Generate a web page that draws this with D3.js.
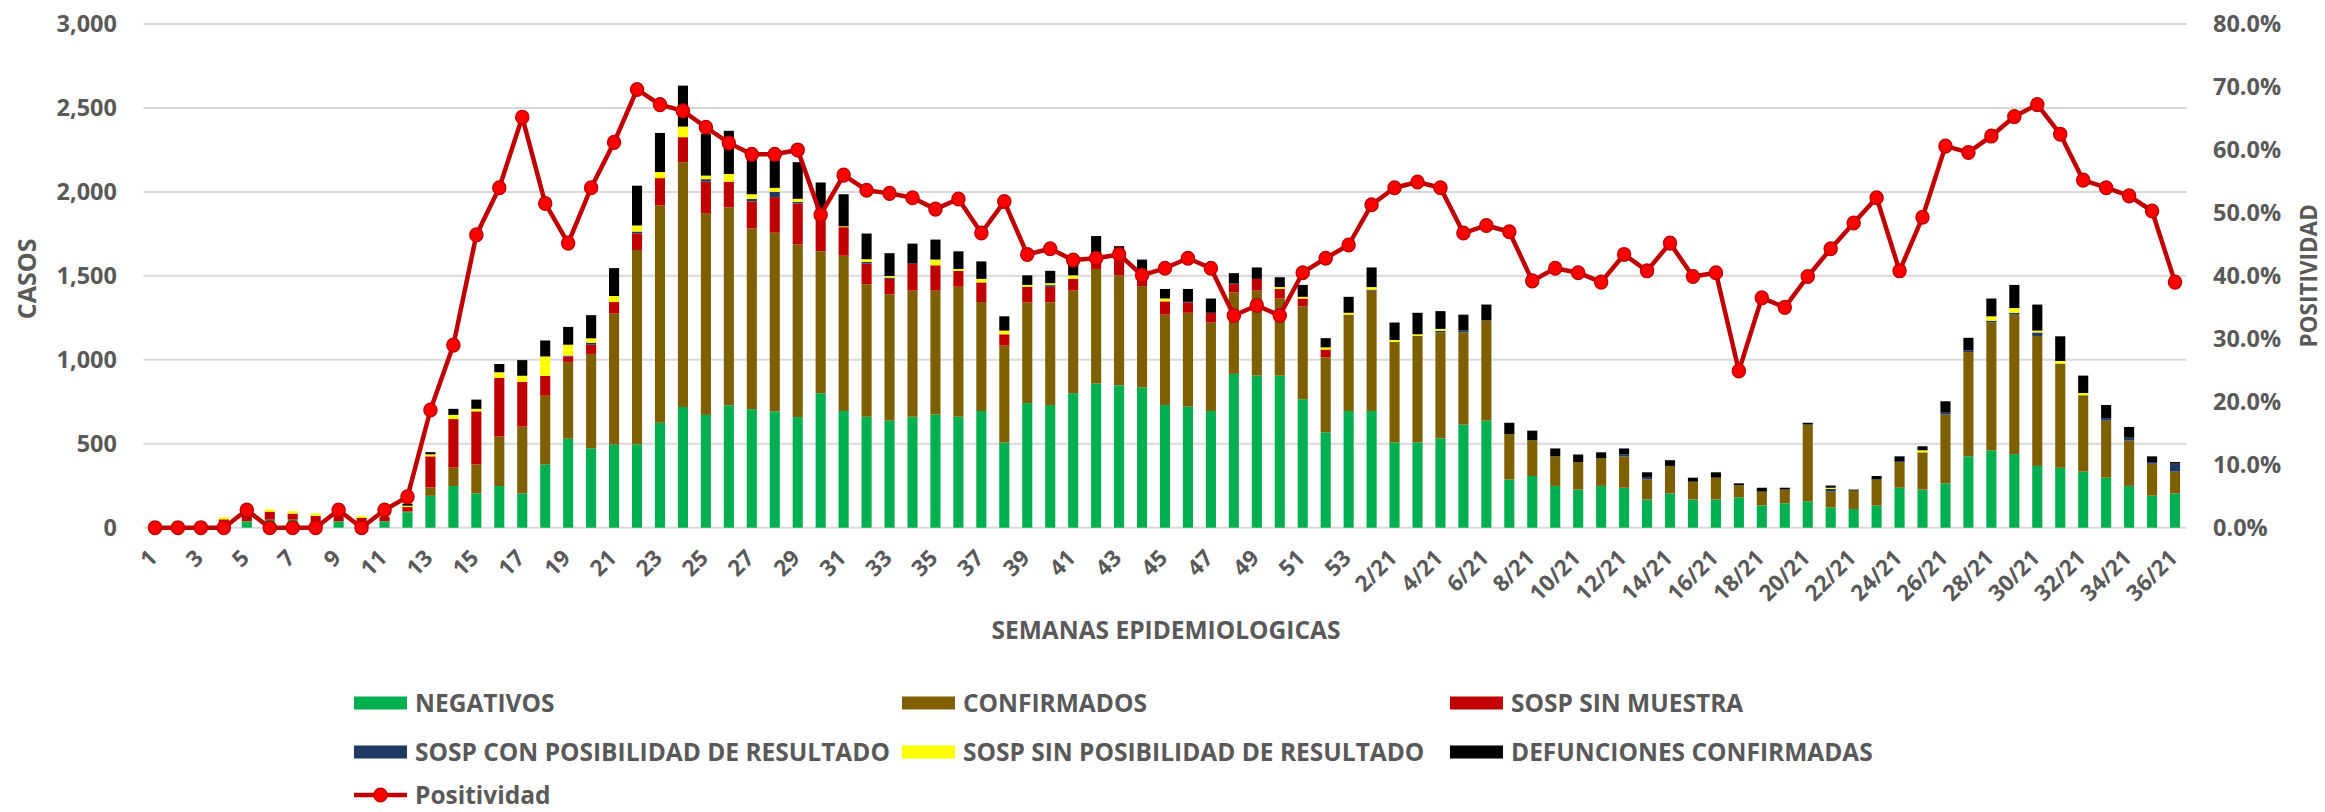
<!DOCTYPE html>
<html>
<head>
<meta charset="utf-8">
<script src="https://cdn.jsdelivr.net/npm/d3@7"></script>
<style>
  html, body { margin: 0; padding: 0; background: #ffffff; }
  svg { display: block; }
  text { font-family: "Open Sans", "DejaVu Sans", sans-serif; font-weight: bold; fill: #595959; }
</style>
</head>
<body>
<svg id="chart" width="2325" height="812"></svg>
<script>
// ---------------- DATA ----------------
const categories = ["1","2","3","4","5","6","7","8","9","10","11","12","13","14","15","16","17","18","19","20",
  "21","22","23","24","25","26","27","28","29","30","31","32","33","34","35","36","37","38","39","40",
  "41","42","43","44","45","46","47","48","49","50","51","52","53",
  "1/21","2/21","3/21","4/21","5/21","6/21","7/21","8/21","9/21","10/21","11/21","12/21","13/21","14/21",
  "15/21","16/21","17/21","18/21","19/21","20/21","21/21","22/21","23/21","24/21","25/21","26/21","27/21",
  "28/21","29/21","30/21","31/21","32/21","33/21","34/21","35/21","36/21"];

const negativos = [0,0,0,0,38,48,48,20,38,10,38,92,190,248,204,248,204,377,530,473,
  496,496,625,719,672,729,706,693,659,801,695,661,638,661,674,661,695,508,742,731,
  801,859,848,835,731,721,695,916,906,906,765,568,695,
  695,508,508,532,614,638,287,308,249,227,249,238,168,204,
  168,168,181,132,145,157,121,111,132,238,227,264,425,
  461,438,368,357,334,298,249,191,204];

const confirmados = [0,0,0,0,2,0,0,0,1,0,2,5,50,110,173,295,398,409,456,562,
  780,1158,1294,1458,1202,1179,1077,1064,1028,845,925,789,752,751,738,774,649,576,600,611,
  611,682,655,604,538,559,527,485,506,459,553,446,574,
  717,600,634,631,549,597,270,213,176,164,166,187,119,164,
  106,130,72,83,82,457,94,110,155,153,222,410,621,
  761,831,774,621,455,340,270,190,130];

const sospSinMuestra = [0,30,30,50,50,48,36,51,30,48,25,26,185,289,316,349,267,119,34,55,
  68,99,163,149,187,153,161,212,244,219,170,123,92,161,151,94,117,68,93,93,
  70,49,106,80,79,62,58,50,70,57,47,47,0,
  0,0,0,0,0,0,0,0,0,0,0,0,0,0,
  0,0,0,0,0,0,0,0,0,0,0,0,0,
  0,0,0,0,0,0,0,0,0];

const sospConPosibilidad = [0,0,0,0,0,0,0,0,0,0,0,0,0,0,0,0,0,0,5,12,
  0,11,0,0,15,0,15,32,10,0,0,10,8,0,0,0,0,0,0,10,
  0,0,0,0,0,3,0,5,0,0,0,0,0,
  6,0,0,10,11,0,0,0,0,0,0,11,11,0,
  0,0,0,0,0,0,16,0,0,6,0,11,11,
  11,11,21,0,0,15,17,10,47];

const sospSinPosibilidad = [0,6,6,12,8,14,14,14,8,12,8,8,12,25,15,34,36,115,65,26,
  36,36,36,63,21,46,27,23,18,0,5,16,9,0,34,12,21,22,11,11,
  21,15,8,10,17,0,0,0,0,11,10,13,11,
  15,10,10,11,0,0,0,0,0,0,0,0,0,0,
  0,0,0,0,0,0,7,0,0,0,12,0,0,
  26,28,11,15,13,0,0,0,0];

const defunciones = [0,0,0,0,0,0,0,0,0,0,0,12,13,36,55,49,93,95,106,138,
  166,237,233,244,250,257,235,164,218,191,191,153,136,119,119,105,104,85,57,74,
  64,132,60,68,57,77,85,60,68,59,71,55,95,
  117,104,128,106,95,94,68,57,47,45,34,36,32,34,
  24,32,11,23,11,11,13,6,21,28,24,68,74,
  106,138,155,147,104,78,64,34,10];

// positividad in percent
const positividad = [0,0,0,0,2.8,0,0,0,2.8,0,2.8,4.9,18.7,29.0,46.5,54.0,65.2,51.5,45.2,54.0,
  61.2,69.6,67.2,66.2,63.6,61.1,59.3,59.3,60.0,49.7,56.0,53.6,53.1,52.4,50.6,52.2,46.8,51.8,43.4,44.3,
  42.5,42.8,43.4,40.1,41.2,42.8,41.2,33.7,35.3,33.7,40.5,42.8,44.9,
  51.3,54.0,54.9,54.0,46.8,48.0,47.0,39.2,41.2,40.5,39.0,43.4,40.8,45.2,
  39.9,40.5,24.9,36.5,35.0,39.9,44.3,48.4,52.4,40.8,49.3,60.6,59.6,
  62.2,65.3,67.2,62.5,55.2,54.0,52.7,50.3,39.0];

const leftTicks = [0, 500, 1000, 1500, 2000, 2500, 3000];
const rightTicks = [0, 0.1, 0.2, 0.3, 0.4, 0.5, 0.6, 0.7, 0.8];

const seriesNames = ["NEGATIVOS","CONFIRMADOS","SOSP SIN MUESTRA",
  "SOSP CON POSIBILIDAD DE RESULTADO","SOSP SIN POSIBILIDAD DE RESULTADO","DEFUNCIONES CONFIRMADAS"];
const seriesColors = ["#00b050","#7f6000","#c00000","#1f3864","#ffff00","#000000"];
const lineName = "Positividad";

// ---------------- LAYOUT ----------------
const svg = d3.select("#chart");
const W = 2325, H = 812;
const plot = { left: 143.5, right: 2186.5, top: 24, bottom: 527.7 };

const seriesArrays = [negativos, confirmados, sospSinMuestra, sospConPosibilidad, sospSinPosibilidad, defunciones];
const table = categories.map((c, i) => {
  const row = { cat: c };
  seriesNames.forEach((n, k) => row[n] = seriesArrays[k][i]);
  row.pos = positividad[i] / 100;
  return row;
});

const x = d3.scaleBand().domain(categories).range([plot.left, plot.right])
  .paddingInner(0.56).paddingOuter(0.28);
const y = d3.scaleLinear().domain([0, 3000]).range([plot.bottom, plot.top]);
const y2 = d3.scaleLinear().domain([0, 0.8]).range([plot.bottom, plot.top]);

svg.append("rect").attr("width", W).attr("height", H).attr("fill", "#ffffff");

// gridlines
svg.append("g").selectAll("line").data(leftTicks).join("line")
  .attr("x1", plot.left).attr("x2", plot.right)
  .attr("y1", d => y(d)).attr("y2", d => y(d))
  .attr("stroke", "#d9d9d9").attr("stroke-width", 2);

// left axis labels
const fmtL = d3.format(",");
svg.append("g").selectAll("text").data(leftTicks).join("text")
  .attr("x", 117).attr("y", d => y(d)).attr("dy", "0.36em")
  .attr("text-anchor", "end").style("font-size", "23.5px")
  .text(d => fmtL(d));

// right axis labels
const fmtR = d3.format(".1%");
svg.append("g").selectAll("text").data(rightTicks).join("text")
  .attr("x", 2213).attr("y", d => y2(d)).attr("dy", "0.36em")
  .attr("text-anchor", "start").style("font-size", "23.5px")
  .text(d => fmtR(d));

// stacked bars
const stack = d3.stack().keys(seriesNames);
const stacked = stack(table);
svg.append("g").selectAll("g").data(stacked).join("g")
  .attr("fill", (d, i) => seriesColors[i])
  .selectAll("rect").data(d => d).join("rect")
  .attr("x", d => x(d.data.cat))
  .attr("width", x.bandwidth())
  .attr("y", d => y(d[1]))
  .attr("height", d => Math.max(0, y(d[0]) - y(d[1])));

// positivity line
const line = d3.line().x(d => x(d.cat) + x.bandwidth() / 2).y(d => y2(d.pos));
svg.append("path").datum(table).attr("d", line)
  .attr("fill", "none").attr("stroke", "#c00000").attr("stroke-width", 4.5)
  .attr("stroke-linejoin", "round");
svg.append("g").selectAll("ellipse").data(table).join("ellipse")
  .attr("cx", d => x(d.cat) + x.bandwidth() / 2).attr("cy", d => y2(d.pos))
  .attr("rx", 6.5).attr("ry", 6.8)
  .attr("fill", "#ff0000").attr("stroke", "#c00000").attr("stroke-width", 1.5);

// x tick labels (every other category)
const shown = categories.filter((c, i) => i % 2 === 0);
svg.append("g").selectAll("text").data(shown).join("text")
  .attr("transform", d => `translate(${x(d) + x.bandwidth() / 2 - 2},${plot.bottom + 26}) rotate(-45)`)
  .attr("text-anchor", "end").attr("dy", "0.36em")
  .style("font-size", "22.5px")
  .text(d => d);

// axis titles
svg.append("text").attr("transform", `translate(27,${(plot.top + plot.bottom) / 2 + 3}) rotate(-90)`)
  .attr("text-anchor", "middle").attr("dy", "0.36em").style("font-size", "25px").text("CASOS");
svg.append("text").attr("transform", `translate(2309,${(plot.top + plot.bottom) / 2}) rotate(-90)`)
  .attr("text-anchor", "middle").attr("dy", "0.36em").style("font-size", "22.5px").text("POSITIVIDAD");
svg.append("text").attr("x", 1166).attr("y", 630).attr("dy", "0.36em")
  .attr("text-anchor", "middle").style("font-size", "24.5px").text("SEMANAS EPIDEMIOLOGICAS");

// legend
const colX = [354, 902, 1450];
const rowY = [703, 752, 795];
const legendItems = seriesNames.map((n, i) => ({ name: n, color: seriesColors[i], col: i % 3, row: Math.floor(i / 3) }));
const lg = svg.append("g");
legendItems.forEach(it => {
  lg.append("rect").attr("x", colX[it.col]).attr("y", rowY[it.row] - 6.5)
    .attr("width", 53).attr("height", 13).attr("fill", it.color);
  lg.append("text").attr("x", colX[it.col] + 61).attr("y", rowY[it.row]).attr("dy", "0.36em")
    .style("font-size", "24.5px").text(it.name);
});
lg.append("line").attr("x1", colX[0]).attr("x2", colX[0] + 53)
  .attr("y1", rowY[2]).attr("y2", rowY[2])
  .attr("stroke", "#c00000").attr("stroke-width", 4.5);
lg.append("ellipse").attr("cx", colX[0] + 26.5).attr("cy", rowY[2]).attr("rx", 6.5).attr("ry", 6.8)
  .attr("fill", "#ff0000").attr("stroke", "#c00000").attr("stroke-width", 1.5);
lg.append("text").attr("x", colX[0] + 61).attr("y", rowY[2]).attr("dy", "0.36em")
  .style("font-size", "24.5px").text(lineName);
</script>
</body>
</html>
